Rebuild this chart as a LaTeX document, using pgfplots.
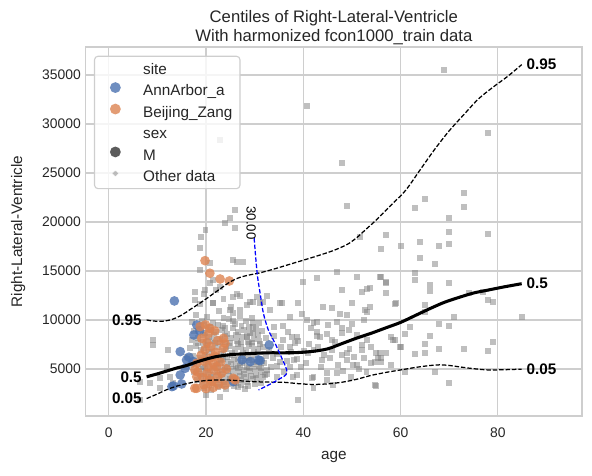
\documentclass[border=0pt]{standalone}
\usepackage{fontspec}
\setmainfont{Liberation Sans}
\usepackage{pgfplots}
\usepackage{pgfplotstable}
\pgfplotsset{compat=1.18}
\definecolor{sbblue}{RGB}{76,114,176}
\definecolor{sborange}{RGB}{221,132,82}
\definecolor{gridc}{RGB}{206,206,206}
\definecolor{txt}{RGB}{38,38,38}
\definecolor{ptgray}{RGB}{128,128,128}

\pgfplotstableread{
x y
69.0 35510
77.9 29050
40.7 31870
47.9 26050
22.9 28370
73.1 22930
73.1 21500
65.0 22320
63.0 21400
48.9 21630
70.0 20380
70.0 18950
77.9 18780
57.0 18700
51.7 18500
64.0 17990
70.0 17790
56.0 17280
60.0 17580
67.9 17550
64.0 16320
67.0 15710
63.0 14830
63.0 14080
56.0 14360
57.0 13820
57.0 12720
66.1 13570
66.1 12990
70.0 13740
74.1 12790
77.0 12890
77.9 12040
79.1 11800
84.9 10340
58.9 11600
65.0 11530
65.0 10790
71.0 10340
67.9 9560
70.0 9390
62.0 9320
61.0 8570
66.1 8370
65.0 7550
79.1 7760
58.0 8300
58.9 7960
60.0 7210
67.9 7040
73.1 7070
77.9 6870
62.9 6500
65.0 6600
57.0 6600
55.0 6600
56.0 6150
56.0 5740
58.0 5410
61.0 4720
67.0 4720
55.0 3270
70.0 3540
53.7 11360
53.7 13300
26.0 21220
24.9 20440
23.9 19860
26.0 19420
19.9 19180
18.9 18500
18.8 17320
25.6 16120
27.7 15950
26.3 15950
20.8 15780
42.8 14250
40.0 13910
21.5 14080
19.8 13060
22.9 13400
27.0 12420
32.5 12420
35.2 11700
31.1 11700
24.9 11020
21.5 11700
37.3 10340
33.9 9320
29.7 9660
42.1 9660
43.5 8300
38.7 8300
28.4 8300
37.3 7280
42.1 6940
9.2 7960
9.2 7450
18.8 15100
17.7 12890
17.7 12040
16.0 6260
11.9 5240
13.3 3540
10.5 4050
6.4 3700
6.4 1840
22.9 2180
23.6 10170
25.6 10680
25.6 12380
27.0 11020
29.1 11870
20.8 13740
46.9 14930
52.0 12890
53.1 13130
47.9 13060
35.6 11700
39.0 11700
45.9 11190
53.1 10850
48.9 10510
40.7 10000
42.8 9830
47.9 9150
49.3 8980
42.8 8810
42.8 8370
37.6 8300
51.0 8470
45.9 7960
53.1 7960
41.0 6600
43.8 5920
45.5 6090
48.9 5920
51.0 5410
55.4 6090
46.9 4560
44.8 4560
42.1 4210
42.1 3030
39.0 1840
38.7 4390
37.3 5240
35.2 5750
38.0 5920
32.5 4900
34.5 4210
32.1 4390
29.7 9320
29.7 8640
35.9 7960
33.2 11020
31.8 11870
29.7 11870
51.0 14420
55.8 14420
57.0 13910
50.0 11700
52.7 11020
59.0 11700
46.9 9830
47.9 8640
52.0 7450
53.9 7280
58.5 7960
55.8 6600
59.9 7280
47.9 6430
48.9 6600
52.4 6090
54.8 5750
50.3 5410
41.7 4050
44.8 3880
46.2 3370
49.9 4210
54.8 3370
12.1 6940
8.5 3540
10.5 3030
12.6 4210
17.2 9800
18.0 10500
19.1 9900
20.3 10300
21.4 9700
22.6 10900
23.5 9400
24.7 10100
25.9 9600
27.0 10400
28.2 9900
29.5 10200
17.5 8900
18.6 9100
19.8 8700
20.9 9300
22.0 8800
23.2 9000
24.4 8600
25.5 9200
26.6 8800
27.8 9000
29.0 8700
30.3 9100
31.5 8900
17.1 8000
18.3 8200
19.4 7800
20.6 8300
21.7 7900
22.9 8100
24.0 7700
25.2 8200
26.3 7900
27.5 8300
28.6 7800
29.8 8100
31.0 7900
32.3 8200
16.8 7100
17.9 7300
19.0 6900
20.2 7400
21.3 7000
22.5 7200
23.6 6800
24.8 7300
25.9 7000
27.1 7200
28.3 6900
29.4 7300
30.6 7000
31.8 7200
33.0 6900
17.4 6300
18.5 6100
19.7 6400
20.8 6000
22.0 6300
23.1 5900
24.3 6200
25.4 6400
26.6 6000
27.7 6300
28.9 6100
30.1 6400
31.2 6000
32.4 6300
33.7 6100
17.0 5400
18.2 5600
19.3 5200
20.5 5500
21.6 5300
22.8 5600
23.9 5200
25.1 5500
26.2 5300
27.4 5600
28.5 5200
29.7 5500
30.8 5300
32.0 5600
33.3 5200
17.6 4700
18.7 4500
19.9 4800
21.0 4400
22.2 4700
23.3 4500
24.5 4800
25.6 4400
26.8 4700
27.9 4500
29.1 4800
30.2 4400
31.4 4700
32.6 4500
18.1 3900
19.2 3700
20.4 4000
21.5 3600
22.7 3900
23.8 3700
25.0 4000
26.1 3600
27.3 3900
28.4 3700
29.6 3950
19.6 3100
21.1 2900
22.4 3200
24.2 3000
26.5 3150
28.0 2950
20.0 2300
18.8 11600
21.5 11700
23.6 12100
25.2 11300
26.4 12600
28.5 11500
30.5 12300
22.0 13100
19.6 12600
34.5 6500
35.5 7200
36.6 5800
37.5 6700
38.3 7600
34.0 8400
35.8 9400
36.9 8800
38.8 6000
39.5 5200
34.6 5300
36.0 4700
37.8 4200
39.0 7900
40.2 6800
41.2 7500
40.6 5600
41.5 9200
39.7 10600
43.0 7200
44.2 6400
44.8 8600
43.6 5200
46.0 6900
45.0 9500
47.2 5400
46.5 7800
48.2 4800
49.5 7000
50.5 6200
52.0 6900
51.5 5000
53.0 4700
54.0 5600
50.0 9600
52.5 10000
47.5 10600
44.0 11300
18.4 7600
19.5 7100
20.7 6700
21.9 7600
23.0 6500
24.2 7000
25.3 6600
26.5 7500
27.6 6600
28.8 7500
29.9 6700
31.1 7500
18.9 5900
20.0 5700
21.2 6200
22.3 5500
23.5 6000
24.6 5700
25.8 5900
26.9 5400
28.1 5800
29.2 5900
30.4 5700
31.6 5800
18.6 5000
19.7 5100
20.9 4900
22.0 5100
23.2 4900
24.3 5100
25.5 5000
26.6 5100
27.8 4900
28.9 5100
30.1 5000
31.3 5100
19.0 4300
20.1 4200
21.3 4200
22.4 4400
23.6 4200
24.7 4300
25.9 4100
27.0 4300
28.2 4200
29.3 4300
30.5 4100
31.7 4200
20.6 3400
22.0 3500
23.3 3400
24.6 3500
25.8 3300
27.1 3400
28.6 3300
30.0 3500
31.3 3600
19.3 8500
20.5 7900
21.6 8500
22.8 7700
23.9 8400
25.0 7600
26.1 8500
27.2 7700
28.4 8400
29.5 7700
30.7 8500
19.6 9500
21.1 9000
22.4 9500
24.0 9200
25.6 9900
27.3 9400
28.8 9300
30.8 9700
}\othertable

\pgfplotstableread{
x y
13.5 11940
18.1 9490
17.5 8470
14.7 6770
16.0 5920
17.4 5750
15.7 5070
14.7 4390
13.3 3270
15.0 3470
13.0 3200
25.6 3700
27.4 5920
29.1 5750
30.8 5920
33.0 7450
31.1 5850
16.5 6200
18.7 8900
}\bluetable

\pgfplotstableread{
x y
19.8 16050
20.8 14770
22.9 14180
24.8 13980
18.8 9320
20.8 9150
19.9 9500
19.1 8130
20.5 8600
21.8 8900
23.6 8130
23.9 7620
22.4 7900
19.8 6940
21.0 7300
23.6 7110
20.8 6090
18.1 5580
19.5 5800
21.8 6300
22.2 5240
23.0 5700
20.2 4560
18.3 4700
21.6 4900
23.2 4560
24.2 5000
20.8 3880
19.4 4100
22.4 4200
18.1 3030
19.6 3400
21.2 3700
22.6 3400
23.9 3370
25.6 4050
26.0 3880
17.7 4900
18.1 4210
17.7 3030
20.0 3000
21.5 3100
20.5 5200
19.0 6400
22.0 6700
20.2 7700
21.5 5600
}\orangetable

\pgfplotstableread{
x y
7.8 10000
9 9900
11 9870
13 10050
15 10500
17 11150
19 11800
21 12500
23 13200
25 13900
27 14350
29 14600
31 14800
34 15200
38 15800
42 16400
46 17050
49 17700
51 18400
53 19300
55 20200
58 21700
61 23200
64 25300
67 27400
70 29300
73 30950
76 32550
79 33750
82 34850
84.9 36050
}\qhigh

\pgfplotstableread{
x y
7.8 4200
10 4500
12 4800
14 5100
16 5350
18 5700
20 6000
22 6250
24 6400
26 6500
28 6550
30 6600
33 6650
36 6650
39 6680
42 6800
45 7050
48 7600
51 8150
54 8650
57 9200
60 9750
63 10450
66 11150
69 11800
72 12300
75 12750
78 13050
81 13350
84.9 13700
}\qmed

\pgfplotstableread{
x y
7.8 1980
10 2450
12 2900
14 3250
16 3500
18 3700
20 3820
22 3880
24 3880
26 3830
28 3760
30 3700
33 3660
36 3640
39 3500
42 3420
45 3480
48 3650
51 3950
54 4350
57 4650
60 4900
63 5150
66 5350
68 5420
70 5360
72 5220
75 5030
78 4900
81 4920
84.9 4980
}\qlow

\pgfplotstableread{
x y
29.9 18340
30.2 16500
30.6 14420
31.2 12500
31.8 10680
32.8 9000
34.2 7620
35.5 6200
36.6 4900
36.4 4400
35.0 3950
33.0 3400
30.8 2860
}\contour

\begin{document}
\begin{tikzpicture}
\useasboundingbox (-61.7pt,-42.5pt) rectangle (364.5pt,299.5pt);
\begin{axis}[
  scale only axis, width=357.3pt, height=265.5pt,
  xmin=-4.73, xmax=97.3, ymin=200, ymax=37830,
  clip mode=individual,
  xtick={0,20,40,60,80},
  ytick={5000,10000,15000,20000,25000,30000,35000},
  scaled y ticks=false,
  /pgf/number format/1000 sep={},
  /pgf/number format/assume math mode=true,
  major tick length=0pt,
  grid=major,
  grid style={gridc, line width=0.8pt},
  axis line style={gridc, line width=1.1pt},
  ticklabel style={font=\fontsize{10}{12}\selectfont, text=txt},
  xticklabel style={yshift=-5pt},
  xlabel={age}, ylabel={Right-Lateral-Ventricle},
  label style={font=\fontsize{11}{13}\selectfont, text=txt},
  xlabel style={at={(axis description cs:0.5,-0.111)}, anchor=center},
  ylabel style={at={(axis description cs:-0.136,0.5)}, anchor=center},
  title={Centiles of Right-Lateral-Ventricle\\With harmonized fcon1000\_train data},
  title style={at={(axis description cs:0.5,1)}, anchor=south, inner sep=0pt, yshift=-4.2pt, align=center, font=\fontsize{12}{13.5}\selectfont, text=txt},
  legend cell align=left,
  legend style={at={(axis description cs:0.0167,0.977)}, anchor=north west,
    draw=gridc, line width=0.8pt, fill=white, fill opacity=0.8, text opacity=1,
    rounded corners=2.5pt, inner xsep=5.5pt, inner ysep=2.4pt,
    row sep=2.2pt, column sep=9.5pt,
    font=\fontsize{11}{13}\selectfont, text=txt,
    nodes={inner sep=0pt, text height=8pt, text depth=2.5pt}},
]
\addlegendimage{legend image code/.code={\path[draw=none] (0pt,-2.5pt) rectangle (20pt,8pt);}}
\addlegendentry{site}
\addlegendimage{legend image code/.code={\path[draw=none] (0pt,-2.5pt) rectangle (20pt,8pt); \path[draw=none, fill=sbblue, fill opacity=0.8] (9.5pt,3.3pt) circle (3.9pt);}}
\addlegendentry{AnnArbor\_a}
\addlegendimage{legend image code/.code={\path[draw=none] (0pt,-2.5pt) rectangle (20pt,8pt); \path[draw=none, fill=sborange, fill opacity=0.8] (9.5pt,3.3pt) circle (3.9pt);}}
\addlegendentry{Beijing\_Zang}
\addlegendimage{legend image code/.code={\path[draw=none] (0pt,-2.5pt) rectangle (20pt,8pt);}}
\addlegendentry{sex}
\addlegendimage{legend image code/.code={\path[draw=none] (0pt,-2.5pt) rectangle (20pt,8pt); \path[draw=none, fill=black!80, fill opacity=0.8] (9.5pt,3.3pt) circle (3.9pt);}}
\addlegendentry{M}
\addlegendimage{legend image code/.code={\path[draw=none] (0pt,-2.5pt) rectangle (20pt,8pt); \path[draw=none, fill=ptgray, fill opacity=0.5] (7.6pt,1.4pt) rectangle (11.4pt,5.2pt);}}
\addlegendentry{Other data}

\addplot[only marks, color=ptgray, mark=square*, mark size=2.15pt, mark options={draw opacity=0, fill=ptgray, fill opacity=0.5}, forget plot] table {\othertable};
\addplot[only marks, color=sbblue, mark=*, mark size=3.5pt, mark options={draw opacity=0, fill=sbblue, fill opacity=0.8}, forget plot] table {\bluetable};
\addplot[only marks, color=sborange, mark=*, mark size=3.5pt, mark options={draw opacity=0, fill=sborange, fill opacity=0.8}, forget plot] table {\orangetable};

\addplot[black, line width=0.9pt, dash pattern=on 3.2pt off 1.4pt, smooth, forget plot] table {\qhigh};
\addplot[black, line width=2.2pt, smooth, forget plot] table {\qmed};
\addplot[black, line width=0.9pt, dash pattern=on 3.2pt off 1.4pt, smooth, forget plot] table {\qlow};
\addplot[blue, line width=0.9pt, dash pattern=on 3.2pt off 1.4pt, smooth, forget plot] table {\contour};

\node[rotate=-90, font=\fontsize{9.5}{11}\selectfont, text=black] at (axis cs:29.3,19900) {30.00};

\node[anchor=east, font=\bfseries\fontsize{11}{13}\selectfont] at (axis cs:7.8,10000) {0.95};
\node[anchor=east, font=\bfseries\fontsize{11}{13}\selectfont] at (axis cs:7.8,4200) {0.5};
\node[anchor=east, font=\bfseries\fontsize{11}{13}\selectfont] at (axis cs:7.8,1980) {0.05};
\node[anchor=west, font=\bfseries\fontsize{11}{13}\selectfont] at (axis cs:84.9,36050) {0.95};
\node[anchor=west, font=\bfseries\fontsize{11}{13}\selectfont] at (axis cs:84.9,13700) {0.5};
\node[anchor=west, font=\bfseries\fontsize{11}{13}\selectfont] at (axis cs:84.9,4980) {0.05};
\end{axis}
\end{tikzpicture}
\end{document}
